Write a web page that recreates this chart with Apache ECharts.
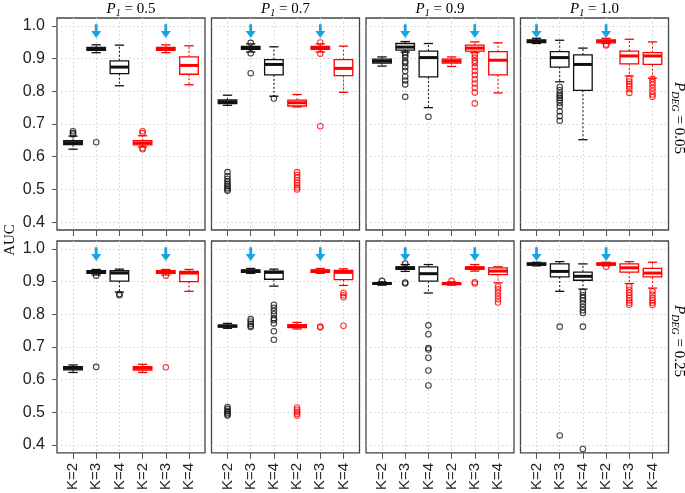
<!DOCTYPE html>
<html>
<head>
<meta charset="utf-8">
<script src="https://cdn.jsdelivr.net/npm/echarts@6/dist/echarts.min.js"></script>
<style>
  html, body { margin: 0; padding: 0; background: #ffffff; }
  #chart { width: 685px; height: 493px; }
</style>
</head>
<body>
<div id="chart"></div>
<script>
// ---------------- DATA ----------------
const categories = ['K=2', 'K=3', 'K=4', 'K=2', 'K=3', 'K=4']; // first three black, last three red
const p1Values = ['0.5', '0.7', '0.9', '1.0'];
const pDegValues = ['0.05', '0.25'];
const yTickValues = [0.4, 0.5, 0.6, 0.7, 0.8, 0.9, 1.0];
const arrowPositions = [[2, 5], [2, 5], [2, 5], [1, 4]]; // per P1 column, same in both rows

// box stats: [lower whisker, Q1, median, Q3, upper whisker] for K=2,3,4 (black), K=2,3,4 (red)
const statsP05D005 = [
  [0.623, 0.637, 0.643, 0.649, 0.663],
  [0.918, 0.925, 0.929, 0.934, 0.942],
  [0.817, 0.854, 0.874, 0.893, 0.941],
  [0.630, 0.636, 0.642, 0.649, 0.664],
  [0.918, 0.925, 0.929, 0.934, 0.942],
  [0.820, 0.852, 0.879, 0.905, 0.939]
];
const outP05D005 = [
  [0.668, 0.672, 0.678], [0.644], [],
  [0.672, 0.678, 0.626, 0.623], [], []
];
const statsP07D005 = [
  [0.757, 0.762, 0.768, 0.774, 0.788],
  [0.920, 0.928, 0.933, 0.937, 0.945],
  [0.785, 0.850, 0.882, 0.897, 0.936],
  [0.752, 0.755, 0.765, 0.773, 0.790],
  [0.920, 0.928, 0.933, 0.937, 0.945],
  [0.797, 0.848, 0.870, 0.897, 0.938]
];
const outP07D005 = [
  [0.553, 0.541, 0.532, 0.524, 0.517, 0.511, 0.505, 0.500, 0.496],
  [0.948, 0.916, 0.855],
  [0.778],
  [0.553, 0.544, 0.536, 0.528, 0.520, 0.513, 0.506, 0.500],
  [0.949, 0.915, 0.693],
  []
];
const statsP09D005 = [
  [0.877, 0.886, 0.892, 0.898, 0.905],
  [0.920, 0.926, 0.935, 0.946, 0.952],
  [0.750, 0.844, 0.903, 0.923, 0.946],
  [0.876, 0.886, 0.892, 0.898, 0.905],
  [0.918, 0.923, 0.932, 0.941, 0.951],
  [0.795, 0.850, 0.895, 0.921, 0.948]
];
const outP09D005 = [
  [],
  [0.917, 0.911, 0.904, 0.892, 0.886, 0.874, 0.862, 0.845, 0.833, 0.821, 0.783],
  [0.722],
  [],
  [0.912, 0.903, 0.893, 0.886, 0.874, 0.862, 0.850, 0.837, 0.824, 0.811, 0.796, 0.763],
  []
];
const statsP10D005 = [
  [0.946, 0.949, 0.953, 0.957, 0.962],
  [0.829, 0.874, 0.903, 0.921, 0.956],
  [0.652, 0.803, 0.882, 0.911, 0.932],
  [0.946, 0.948, 0.953, 0.957, 0.962],
  [0.847, 0.884, 0.908, 0.923, 0.959],
  [0.840, 0.882, 0.908, 0.918, 0.951]
];
const outP10D005 = [
  [],
  [0.813, 0.803, 0.793, 0.786, 0.780, 0.773, 0.764, 0.754, 0.739, 0.724, 0.710],
  [],
  [0.943, 0.940],
  [0.838, 0.830, 0.822, 0.815, 0.806, 0.795],
  [0.838, 0.828, 0.820, 0.810, 0.800, 0.790, 0.783]
];
const statsP05D025 = [
  [0.622, 0.630, 0.635, 0.640, 0.645],
  [0.920, 0.925, 0.929, 0.933, 0.937],
  [0.868, 0.901, 0.926, 0.933, 0.938],
  [0.622, 0.629, 0.635, 0.640, 0.647],
  [0.920, 0.925, 0.929, 0.933, 0.937],
  [0.870, 0.900, 0.926, 0.931, 0.937]
];
const outP05D025 = [
  [], [0.918, 0.639], [0.862, 0.858],
  [], [0.918, 0.638], []
];
const statsP07D025 = [
  [0.757, 0.761, 0.764, 0.767, 0.772],
  [0.925, 0.928, 0.932, 0.936, 0.940],
  [0.886, 0.907, 0.928, 0.932, 0.938],
  [0.755, 0.759, 0.764, 0.768, 0.775],
  [0.925, 0.928, 0.932, 0.936, 0.940],
  [0.888, 0.906, 0.928, 0.934, 0.939]
];
const outP07D025 = [
  [0.516, 0.510, 0.504, 0.499, 0.494, 0.490],
  [0.785, 0.778, 0.771, 0.765, 0.761],
  [0.829, 0.820, 0.810, 0.800, 0.788, 0.782, 0.772, 0.748, 0.722],
  [0.515, 0.508, 0.502, 0.496, 0.490],
  [0.762, 0.760],
  [0.865, 0.858, 0.852, 0.765]
];
const statsP09D025 = [
  [0.889, 0.892, 0.894, 0.896, 0.899],
  [0.931, 0.937, 0.942, 0.945, 0.952],
  [0.865, 0.901, 0.924, 0.945, 0.952],
  [0.889, 0.891, 0.894, 0.896, 0.899],
  [0.932, 0.937, 0.942, 0.945, 0.952],
  [0.896, 0.921, 0.932, 0.942, 0.945]
];
const outP09D025 = [
  [0.902],
  [0.955, 0.897, 0.894],
  [0.766, 0.739, 0.697, 0.692, 0.667, 0.628, 0.582],
  [0.902],
  [0.898, 0.894],
  [0.885, 0.876, 0.866, 0.856, 0.846, 0.836]
];
const statsP10D025 = [
  [0.948, 0.950, 0.953, 0.957, 0.959],
  [0.870, 0.914, 0.931, 0.954, 0.961],
  [0.877, 0.904, 0.916, 0.929, 0.954],
  [0.948, 0.950, 0.953, 0.957, 0.959],
  [0.894, 0.929, 0.942, 0.954, 0.961],
  [0.880, 0.914, 0.926, 0.940, 0.959]
];
const outP10D025 = [
  [],
  [0.762, 0.429],
  [0.868, 0.858, 0.850, 0.842, 0.832, 0.822, 0.812, 0.804, 0.762, 0.388],
  [0.945],
  [0.885, 0.875, 0.866, 0.858, 0.850, 0.842, 0.835, 0.829],
  [0.870, 0.860, 0.850, 0.842, 0.835, 0.828]
];

const panelStats = [
  [statsP05D005, statsP07D005, statsP09D005, statsP10D005],
  [statsP05D025, statsP07D025, statsP09D025, statsP10D025]
];
const panelOutliers = [
  [outP05D005, outP07D005, outP09D005, outP10D005],
  [outP05D025, outP07D025, outP09D025, outP10D025]
];

// ---------------- LAYOUT / STYLE ----------------
const colLefts = [57, 211.5, 366, 520.5];
const rowTops = [18, 241];
const panelW = 148, panelH = 212;
const BLACK = '#111111', RED = '#ff0000', ARROW = '#1aa3e0';
const SANS = 'Liberation Sans, Arial, sans-serif';
const SERIF = 'Liberation Serif, Times New Roman, serif';

function renderBox(params, api) {
  const x = api.value(0);
  const lo = api.value(1), q1 = api.value(2), md = api.value(3), q3 = api.value(4), hi = api.value(5);
  const color = api.value(6) ? RED : BLACK;
  const hw = 0.4, cw = 0.2;
  const xl = api.coord([x - hw, q3])[0], xr = api.coord([x + hw, q3])[0];
  const xc = api.coord([x, q3])[0];
  const yq3 = api.coord([x, q3])[1], yq1 = api.coord([x, q1])[1];
  const ymd = api.coord([x, md])[1];
  const ylo = api.coord([x, lo])[1], yhi = api.coord([x, hi])[1];
  const cl = api.coord([x - cw, lo])[0], cr = api.coord([x + cw, lo])[0];
  const dash = { stroke: color, lineWidth: 1, lineDash: [2, 2] };
  const solid = { stroke: color, lineWidth: 1.3 };
  return {
    type: 'group',
    children: [
      { type: 'line', shape: { x1: xc, y1: yq3, x2: xc, y2: yhi }, style: dash },
      { type: 'line', shape: { x1: xc, y1: yq1, x2: xc, y2: ylo }, style: dash },
      { type: 'line', shape: { x1: cl, y1: yhi, x2: cr, y2: yhi }, style: solid },
      { type: 'line', shape: { x1: cl, y1: ylo, x2: cr, y2: ylo }, style: solid },
      { type: 'rect', shape: { x: xl, y: yq3, width: xr - xl, height: yq1 - yq3 },
        style: { fill: '#ffffff', stroke: color, lineWidth: 1.3 } },
      { type: 'line', shape: { x1: xl, y1: ymd, x2: xr, y2: ymd }, style: { stroke: color, lineWidth: 3 } }
    ]
  };
}

function renderArrow(params, api) {
  const x = api.value(0);
  const top = api.coord([x, 1.005]);
  const tip = api.coord([x, 0.963]);
  const px = top[0], headH = 7, headW = 5;
  return {
    type: 'group',
    children: [
      { type: 'rect', shape: { x: px - 1.4, y: top[1], width: 2.8, height: tip[1] - top[1] - headH + 1 },
        style: { fill: ARROW } },
      { type: 'polygon', shape: { points: [[px - headW, tip[1] - headH], [px + headW, tip[1] - headH], [px, tip[1]]] },
        style: { fill: ARROW } }
    ]
  };
}

const grids = [], xAxes = [], yAxes = [], series = [];
const positions = [1, 2, 3, 4, 5, 6];

for (let r = 0; r < 2; r++) {
  for (let c = 0; c < 4; c++) {
    const gi = r * 4 + c;
    grids.push({
      left: colLefts[c], top: rowTops[r], width: panelW, height: panelH,
      show: true, borderColor: '#444444', borderWidth: 1.3, backgroundColor: 'transparent'
    });
    xAxes.push({
      gridIndex: gi, type: 'value', min: 0.31, max: 6.69,
      axisLine: { show: false },
      axisTick: { show: true, customValues: positions, length: 6, lineStyle: { color: '#555', width: 1 } },
      axisLabel: {
        show: r === 1, customValues: positions, rotate: 90, margin: 10,
        formatter: v => categories[Math.round(v) - 1],
        fontSize: 15, fontFamily: SANS, color: '#222'
      },
      splitLine: { show: true, lineStyle: { color: '#cfcfcf', type: [1.5, 2.5], width: 1 } }
    });
    yAxes.push({
      gridIndex: gi, type: 'value', min: 0.376, max: 1.024,
      axisLine: { show: false },
      axisTick: { show: c === 0, customValues: yTickValues, length: 5, lineStyle: { color: '#555', width: 1 } },
      axisLabel: {
        show: c === 0, customValues: yTickValues, margin: 12,
        formatter: v => v.toFixed(1),
        fontSize: 16, fontFamily: SANS, color: '#222'
      },
      splitLine: { show: true, lineStyle: { color: '#cfcfcf', type: [1.5, 2.5], width: 1 } }
    });

    const stats = panelStats[r][c];
    const outs = panelOutliers[r][c];
    series.push({
      type: 'custom', xAxisIndex: gi, yAxisIndex: gi, renderItem: renderBox,
      encode: { x: 0, y: [1, 2, 3, 4, 5] }, silent: true, z: 3,
      data: stats.map((s, j) => [j + 1, s[0], s[1], s[2], s[3], s[4], j >= 3 ? 1 : 0])
    });
    const blackPts = [], redPts = [];
    outs.forEach((vals, j) => vals.forEach(v => (j >= 3 ? redPts : blackPts).push([j + 1, v])));
    series.push({
      type: 'scatter', xAxisIndex: gi, yAxisIndex: gi, symbol: 'circle', symbolSize: 5.5, z: 4, silent: true,
      itemStyle: { color: 'rgba(0,0,0,0)', borderColor: BLACK, borderWidth: 1.1 }, data: blackPts
    });
    series.push({
      type: 'scatter', xAxisIndex: gi, yAxisIndex: gi, symbol: 'circle', symbolSize: 5.5, z: 4, silent: true,
      itemStyle: { color: 'rgba(0,0,0,0)', borderColor: RED, borderWidth: 1.1 }, data: redPts
    });
    series.push({
      type: 'custom', xAxisIndex: gi, yAxisIndex: gi, renderItem: renderArrow, z: 5, silent: true,
      encode: { x: 0, y: 1 },
      data: arrowPositions[c].map(p => [p, 1.0])
    });
  }
}

// ---------------- TEXT ----------------
const graphics = [];
const subRich = {
  i: { fontFamily: SERIF, fontStyle: 'italic', fontSize: 15, color: '#111' },
  s: { fontFamily: SERIF, fontStyle: 'italic', fontSize: 10, color: '#111', padding: [8, 0, 0, 0] },
  n: { fontFamily: SERIF, fontSize: 15, color: '#111' }
};
p1Values.forEach((v, c) => {
  graphics.push({
    type: 'text', x: colLefts[c] + panelW / 2, y: 9,
    style: { text: '{i|P}{s|1}{n| = ' + v + '}', rich: subRich, align: 'center', verticalAlign: 'middle' }
  });
});
pDegValues.forEach((v, r) => {
  graphics.push({
    type: 'text', x: 679, y: rowTops[r] + panelH / 2 - 6, rotation: -Math.PI / 2,
    style: { text: '{i|P}{s|DEG}{n| = ' + v + '}', rich: subRich, align: 'center', verticalAlign: 'middle' }
  });
});
graphics.push({
  type: 'text', x: 10, y: 240, rotation: Math.PI / 2,
  style: { text: 'AUC', fontFamily: SERIF, fontSize: 15, fill: '#111', align: 'center', verticalAlign: 'middle' }
});

const chart = echarts.init(document.getElementById('chart'), null, { renderer: 'canvas' });
chart.setOption({
  backgroundColor: '#ffffff',
  animation: false,
  grid: grids,
  xAxis: xAxes,
  yAxis: yAxes,
  series: series,
  graphic: graphics
});
</script>
</body>
</html>
